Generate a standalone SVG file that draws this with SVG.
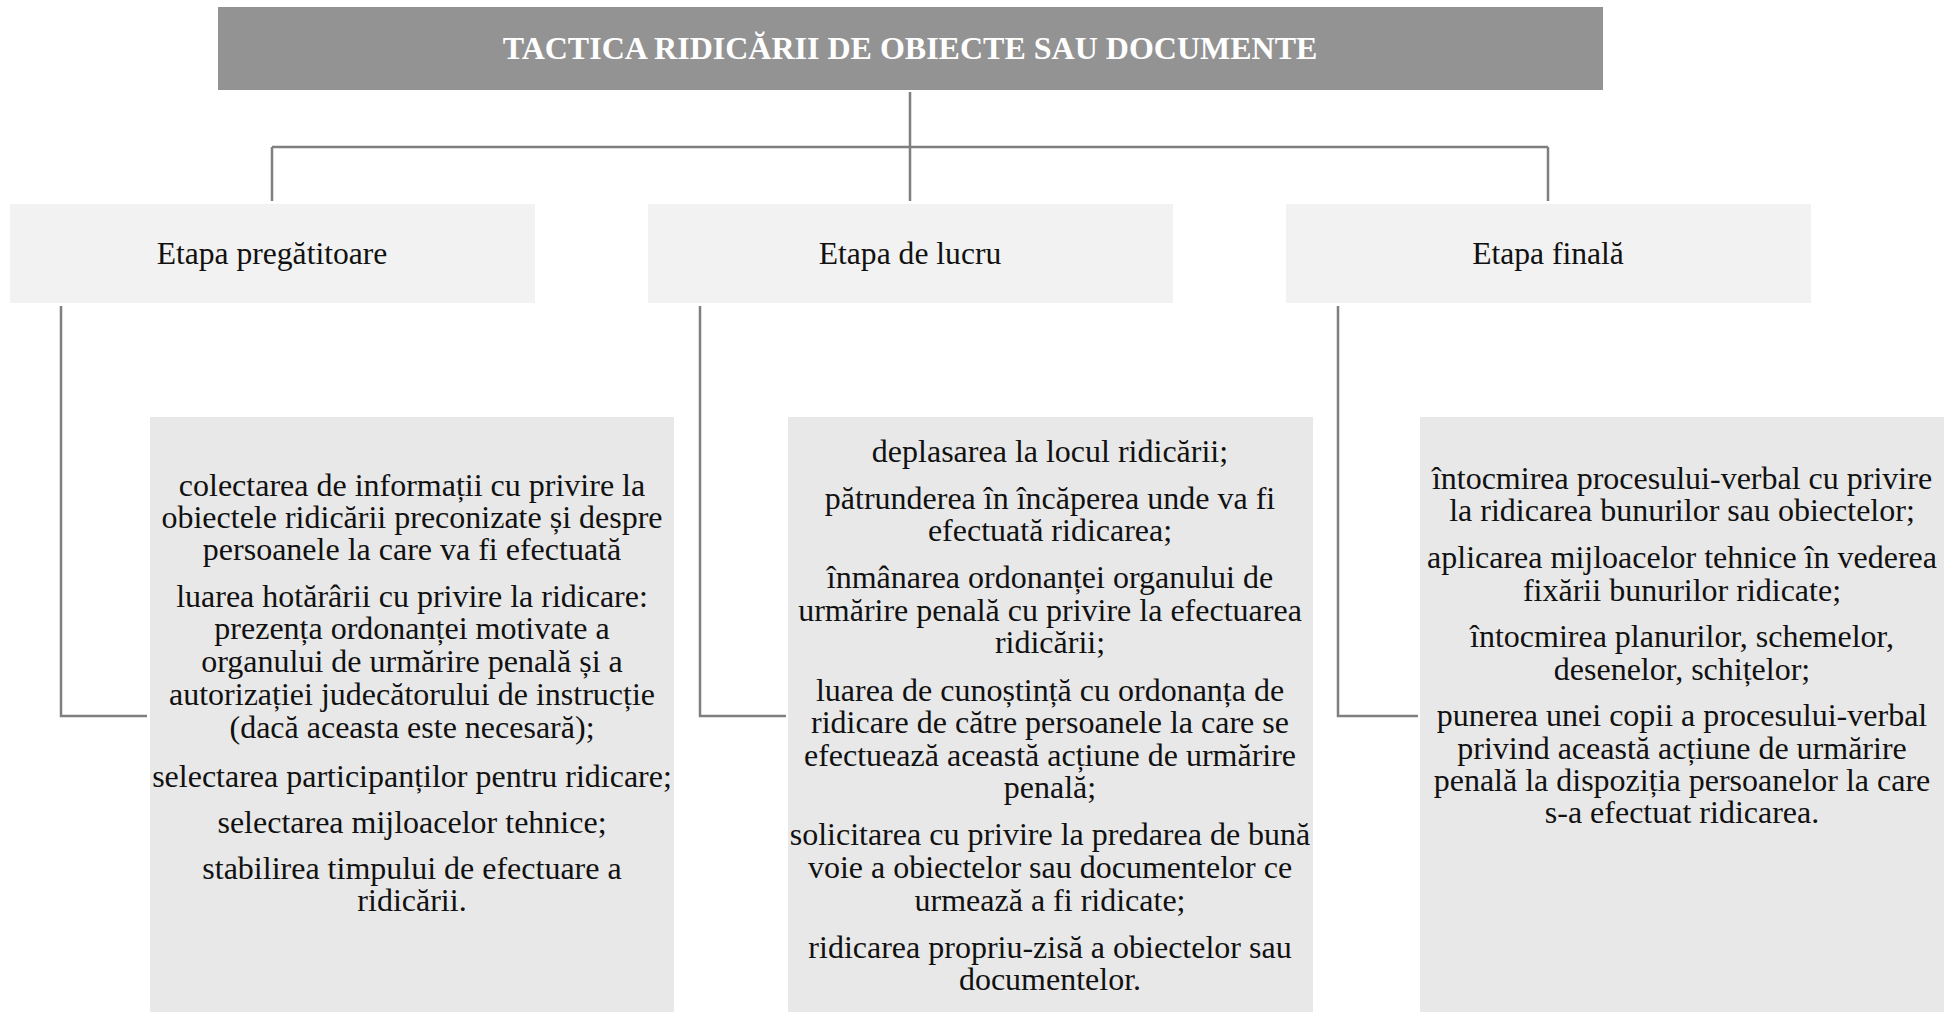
<svg xmlns="http://www.w3.org/2000/svg" width="1956" height="1012" viewBox="0 0 1956 1012">
<style>
  .title { fill: #939393; }
  .stage { fill: #f2f2f2; }
  .content { fill: #e8e8e8; }
  .conn { stroke: #7f7f7f; stroke-width: 2.5; fill: none; }
  text { font-family: "Liberation Serif", "Times New Roman", serif; font-size: 32px; fill: #111; text-anchor: middle; }
  .tt { font-weight: bold; fill: #ffffff; }
  .st { font-size: 31.6px; }
</style>
<rect width="1956" height="1012" fill="#ffffff"/>
<g id="connectors">
  <path class="conn" d="M910 92 V147 M272 147 H1548 M272 147 V201 M910 147 V201 M1548 147 V201"/>
  <path class="conn" d="M61 306 V716 H147"/>
  <path class="conn" d="M700 306 V716 H786"/>
  <path class="conn" d="M1338 306 V716 H1418"/>
</g>
<g id="title">
  <rect class="title" x="218" y="7" width="1385" height="83"/>
  <text class="tt" x="910" y="59">TACTICA RIDICĂRII DE OBIECTE SAU DOCUMENTE</text>
</g>
<g id="stage1">
  <rect class="stage" x="10" y="204" width="525" height="99"/>
  <text class="st" x="272" y="264">Etapa pregătitoare</text>
</g>
<g id="stage2">
  <rect class="stage" x="648" y="204" width="525" height="99"/>
  <text class="st" x="910" y="264">Etapa de lucru</text>
</g>
<g id="stage3">
  <rect class="stage" x="1286" y="204" width="525" height="99"/>
  <text class="st" x="1548" y="264">Etapa finală</text>
</g>
<g id="content1">
  <rect class="content" x="150" y="417" width="524" height="595"/>
  <text x="412" y="496">colectarea de informații cu privire la</text>
  <text x="412" y="528">obiectele ridicării preconizate și despre</text>
  <text x="412" y="560">persoanele la care va fi efectuată</text>
  <text x="412" y="607">luarea hotărârii cu privire la ridicare:</text>
  <text x="412" y="639">prezența ordonanței motivate a</text>
  <text x="412" y="672">organului de urmărire penală și a</text>
  <text x="412" y="705">autorizației judecătorului de instrucție</text>
  <text x="412" y="738">(dacă aceasta este necesară);</text>
  <text x="412" y="787">selectarea participanților pentru ridicare;</text>
  <text x="412" y="833">selectarea mijloacelor tehnice;</text>
  <text x="412" y="879">stabilirea timpului de efectuare a</text>
  <text x="412" y="911">ridicării.</text>
</g>
<g id="content2">
  <rect class="content" x="788" y="417" width="525" height="595"/>
  <text x="1050" y="462">deplasarea la locul ridicării;</text>
  <text x="1050" y="509">pătrunderea în încăperea unde va fi</text>
  <text x="1050" y="541">efectuată ridicarea;</text>
  <text x="1050" y="588">înmânarea ordonanței organului de</text>
  <text x="1050" y="621">urmărire penală cu privire la efectuarea</text>
  <text x="1050" y="653">ridicării;</text>
  <text x="1050" y="701">luarea de cunoștință cu ordonanța de</text>
  <text x="1050" y="733">ridicare de către persoanele la care se</text>
  <text x="1050" y="766">efectuează această acțiune de urmărire</text>
  <text x="1050" y="798">penală;</text>
  <text x="1050" y="845">solicitarea cu privire la predarea de bună</text>
  <text x="1050" y="878">voie a obiectelor sau documentelor ce</text>
  <text x="1050" y="911">urmează a fi ridicate;</text>
  <text x="1050" y="958">ridicarea propriu-zisă a obiectelor sau</text>
  <text x="1050" y="990">documentelor.</text>
</g>
<g id="content3">
  <rect class="content" x="1420" y="417" width="524" height="595"/>
  <text x="1682" y="489">întocmirea procesului-verbal cu privire</text>
  <text x="1682" y="521">la ridicarea bunurilor sau obiectelor;</text>
  <text x="1682" y="568">aplicarea mijloacelor tehnice în vederea</text>
  <text x="1682" y="601">fixării bunurilor ridicate;</text>
  <text x="1682" y="647">întocmirea planurilor, schemelor,</text>
  <text x="1682" y="680">desenelor, schițelor;</text>
  <text x="1682" y="726">punerea unei copii a procesului-verbal</text>
  <text x="1682" y="759">privind această acțiune de urmărire</text>
  <text x="1682" y="791">penală la dispoziția persoanelor la care</text>
  <text x="1682" y="823">s-a efectuat ridicarea.</text>
</g>
</svg>
